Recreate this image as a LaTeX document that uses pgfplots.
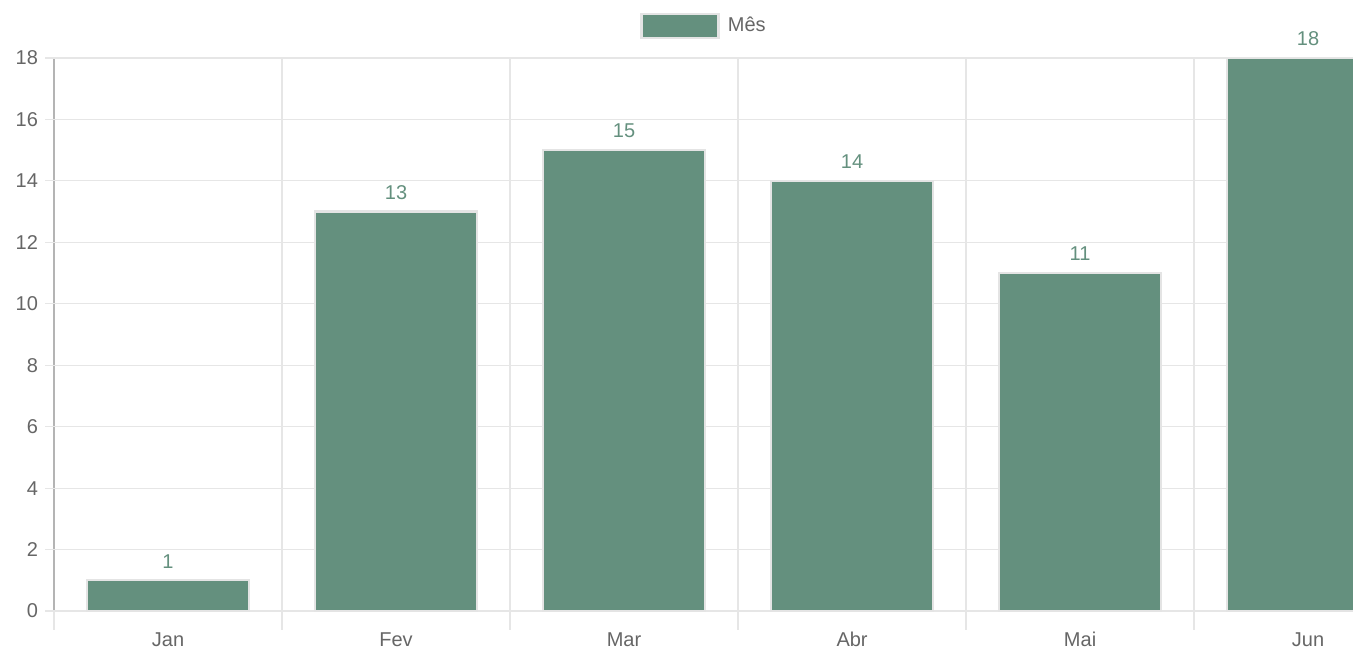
\documentclass[border=0pt]{standalone}
\usepackage{pgfplots}
\pgfplotsset{compat=1.18}
\usepackage{fontspec}
\setmainfont{Liberation Sans}
\definecolor{barc}{HTML}{64907E}
\definecolor{txt}{HTML}{666666}
\definecolor{gridc}{HTML}{E6E6E6}
\definecolor{axc}{HTML}{B4B4B4}
\definecolor{brd}{HTML}{E4E4E4}
\begin{document}
\begin{tikzpicture}
\begin{axis}[
  at={(0,0)}, anchor=south west,
  scale only axis, width=649.5pt, height=276.5pt,
  xmin=-0.5, xmax=5.197, ymin=0, ymax=18,
  ytick=\empty,
  extra y ticks={0,2,4,6,8,10,12,14,16,18},
  extra y tick style={major tick length=4.5pt, grid=major},
  xtick={-0.5,0.5,...,4.5}, xticklabels={},
  extra x ticks={0,1,2,3,4,5},
  extra x tick labels={Jan,Fev,Mar,Abr,Mai,Jun},
  extra x tick style={major tick length=0pt, grid=none,
    xticklabel style={text height=7.5pt, text depth=0pt, inner ysep=1pt, yshift=-9pt}},
  axis x line*=bottom, axis y line*=left,
  every outer x axis line/.append style={-, draw=axc, line width=0.6pt},
  every outer y axis line/.append style={-, draw=axc, line width=0.6pt},
  xmajorgrids,
  major grid style={draw=gridc, line width=0.6pt},
  tick align=outside,
  major tick length=9.5pt,
  tick style={draw=gridc, line width=0.6pt},
  tick label style={font=\fontsize{10}{12}\selectfont, text=txt},
  /pgf/number format/assume math mode=true,
  ybar, bar width=0.71,
  clip mode=individual,
  legend style={at={(0.5012,1.058)}, anchor=center, draw=none, fill=none,
    font=\fontsize{10}{12}\selectfont, text=txt, inner sep=0pt, column sep=2pt},
  legend image code/.code={\fill[barc, draw=brd, line width=1.2pt] (0pt,-6pt) rectangle (38.5pt,6pt);},
]
\addplot[fill=barc, draw=brd, line width=1.2pt,
  nodes near coords,
  nodes near coords style={text=barc, anchor=south, inner sep=0pt, yshift=5.5pt,
    font=\fontsize{10}{12}\selectfont}]
  coordinates {(0,1) (1,13) (2,15) (3,14) (4,11) (5,18)};
\addlegendentry{Mês}
\end{axis}
\pgfresetboundingbox
\useasboundingbox (-27pt,-19.5pt) rectangle (649.5pt,305.5pt);
\end{tikzpicture}
\end{document}
